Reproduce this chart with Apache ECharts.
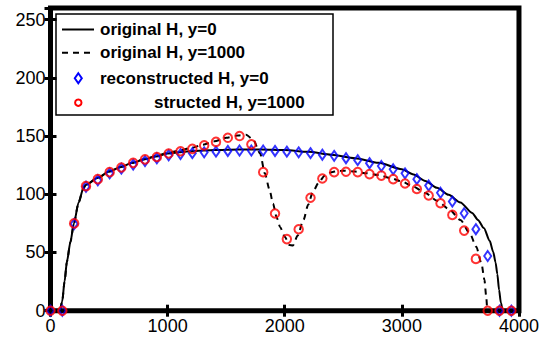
<!DOCTYPE html>
<html>
<head>
<meta charset="utf-8">
<script src="https://cdn.jsdelivr.net/npm/echarts@6/dist/echarts.min.js"></script>
<style>
  html, body { margin: 0; padding: 0; background: #fff; }
  #chart { width: 542px; height: 339px; }
</style>
</head>
<body>
<div id="chart"></div>
<script>
// sample positions of the markers (x)
var sampleX = [0, 101, 202, 303, 404, 505, 605, 706, 807, 908, 1009, 1110, 1211, 1312, 1413, 1514, 1614, 1715, 1816, 1917,
  2018, 2119, 2220, 2321, 2422, 2523, 2623, 2724, 2825, 2926, 3027, 3128, 3229, 3330, 3431, 3532, 3632, 3733, 3834, 3935];
// reconstructed H, y=0 (blue diamonds)
var reconY0 = [0, 0, 74.5, 106.5, 112, 118, 122, 125.5, 128.5, 131, 133.5, 134.5, 135.3, 136, 136.6, 137.2, 137.6, 137.6, 137.6, 137.2,
  136.6, 136, 135.3, 134, 133, 131, 129.3, 126.7, 124.3, 121.5, 118, 113, 107.5, 101.3, 93.7, 83.7, 70, 47, 0, 0];
// reconstructed H, y=1000 (red circles)
var reconY1000 = [0, 0, 75, 107, 113, 119, 123, 127, 130, 132, 135, 137, 139, 142, 145, 148.5, 150, 143, 119, 83.5,
  61.5, 70, 97, 113.5, 119, 119.3, 119, 117.3, 116, 113, 109.3, 104.5, 99, 92.3, 82.3, 68.8, 44.5, 0, 0, 0];

// original H, y=0 (solid curve)
var origX0 = [0, 80, 100, 120, 140, 170, 200, 240, 280, 300, 400, 500, 600, 700, 800, 900, 1000, 1200, 1400, 1600, 1800,
  2000, 2200, 2400, 2600, 2800, 3000, 3100, 3200, 3300, 3400, 3500, 3600, 3650, 3700, 3750, 3780, 3800, 3815, 3830, 3845, 3862, 4000];
var origY0 = [0, 0, 8, 25, 42, 59, 75, 93, 105, 108, 114, 119.5, 123.5, 127, 130, 132.5, 135, 137, 138, 138.5, 138.5,
  138, 136.5, 134, 131, 127, 121.5, 117, 111.5, 105.5, 99.5, 93, 84, 78, 71, 60, 50.5, 41.5, 31.5, 18, 7, 0, 0];

// original H, y=1000 (dashed curve)
var origX1000 = [0, 80, 100, 120, 140, 170, 200, 240, 280, 300, 400, 500, 600, 700, 800, 900, 1000, 1100, 1200, 1300, 1400,
  1500, 1600, 1670, 1730, 1790, 1830, 1870, 1900, 1930, 1960, 2000, 2040, 2070, 2110, 2160, 2200, 2240, 2290, 2340, 2400,
  2450, 2500, 2600, 2700, 2800, 2900, 3000, 3100, 3200, 3300, 3400, 3500, 3580, 3635, 3680, 3705, 3720, 3730, 4000];
var origY1000 = [0, 0, 8, 25, 42, 59, 75, 93, 105, 108, 113.5, 119.5, 123.5, 127, 130, 133, 135.5, 137.5, 139.8, 142.5, 145.5,
  148.5, 150.5, 151.2, 147, 135, 118, 104, 92, 80.5, 72, 63.5, 56.5, 56, 64.5, 78, 91, 102, 110, 116, 119,
  120, 120.2, 119.5, 118, 116.5, 114, 111, 106.5, 101, 94.5, 87.5, 78, 66.5, 55, 40.5, 26.5, 12.5, 0, 0];

function pairs(xs, ys) {
  return xs.map(function (x, i) { return [x, ys[i]]; });
}

var font = '"Liberation Sans", Arial, Helvetica, sans-serif';
var myChart = echarts.init(document.getElementById('chart'), null, { renderer: 'svg' });

var tickStyle = { show: true, inside: true, length: 6, lineStyle: { color: '#000', width: 3 } };
var plain = function (v) { return String(v); };

var option = {
  animation: false,
  backgroundColor: '#fff',
  grid: {
    left: 50.5,
    right: 22.5,
    top: 8,
    bottom: 28.3,
    show: true,
    borderColor: '#000',
    borderWidth: 5,
    backgroundColor: 'transparent'
  },
  xAxis: [
    {
      type: 'value',
      min: 0,
      max: 4000,
      interval: 1000,
      axisLine: { show: false },
      axisTick: tickStyle,
      splitLine: { show: false },
      axisLabel: { color: '#000', fontSize: 18, fontFamily: font, margin: 6, formatter: plain }
    },
    {
      type: 'value',
      position: 'top',
      min: 0,
      max: 4000,
      interval: 1000,
      axisLine: { show: false },
      axisTick: tickStyle,
      splitLine: { show: false },
      axisLabel: { show: false }
    }
  ],
  yAxis: [
    {
      type: 'value',
      min: 0,
      max: 260,
      interval: 50,
      axisLine: { show: false },
      axisTick: tickStyle,
      splitLine: { show: false },
      axisLabel: { color: '#000', fontSize: 18, fontFamily: font, margin: 5, showMaxLabel: false, formatter: plain }
    },
    {
      type: 'value',
      position: 'right',
      min: 0,
      max: 260,
      interval: 50,
      axisLine: { show: false },
      axisTick: tickStyle,
      splitLine: { show: false },
      axisLabel: { show: false }
    }
  ],
  series: [
    {
      name: 'original H, y=0',
      type: 'line',
      data: pairs(origX0, origY0),
      showSymbol: false,
      smooth: 0.25,
      smoothMonotone: 'x',
      lineStyle: { color: '#000', width: 2 },
      z: 2
    },
    {
      name: 'original H, y=1000',
      type: 'line',
      data: pairs(origX1000, origY1000),
      showSymbol: false,
      smooth: 0.25,
      smoothMonotone: 'x',
      lineStyle: { color: '#000', width: 2, type: [6, 5] },
      z: 2
    },
    {
      name: 'reconstructed H, y=0',
      type: 'scatter',
      data: pairs(sampleX, reconY0),
      symbol: 'diamond',
      symbolSize: [7, 10],
      itemStyle: { color: 'rgba(0,0,0,0)', borderColor: '#0000ff', borderWidth: 2 },
      z: 3
    },
    {
      name: 'structed H, y=1000',
      type: 'scatter',
      data: pairs(sampleX, reconY1000),
      symbol: 'circle',
      symbolSize: 8.5,
      itemStyle: { color: 'rgba(0,0,0,0)', borderColor: '#ff0000', borderWidth: 2 },
      z: 4
    }
  ],
  graphic: [
    {
      type: 'group',
      z: 100,
      children: [
        { type: 'rect', shape: { x: 56, y: 14, width: 277, height: 101 },
          style: { fill: '#fff', stroke: '#000', lineWidth: 1.5 } },
        { type: 'line', shape: { x1: 62, y1: 29.5, x2: 94, y2: 29.5 }, style: { stroke: '#000', lineWidth: 2 } },
        { type: 'text', x: 100, y: 29.5, style: { text: 'original H, y=0', font: 'bold 17px ' + font, fill: '#000', verticalAlign: 'middle' } },
        { type: 'line', shape: { x1: 62, y1: 52.7, x2: 94, y2: 52.7 }, style: { stroke: '#000', lineWidth: 2, lineDash: [6, 5] } },
        { type: 'text', x: 100, y: 52.7, style: { text: 'original H, y=1000', font: 'bold 17px ' + font, fill: '#000', verticalAlign: 'middle' } },
        { type: 'polygon', shape: { points: [[78.3, 73.3], [81.8, 78.3], [78.3, 83.3], [74.8, 78.3]] },
          style: { fill: 'none', stroke: '#0000ff', lineWidth: 2 } },
        { type: 'text', x: 100, y: 78.3, style: { text: 'reconstructed H, y=0', font: 'bold 17px ' + font, fill: '#000', verticalAlign: 'middle' } },
        { type: 'circle', shape: { cx: 78.3, cy: 102.7, r: 3.2 }, style: { fill: 'none', stroke: '#ff0000', lineWidth: 2 } },
        { type: 'text', x: 154, y: 102.7, style: { text: 'structed H, y=1000', font: 'bold 17px ' + font, fill: '#000', verticalAlign: 'middle' } }
      ]
    }
  ]
};

myChart.setOption(option);
</script>
</body>
</html>
